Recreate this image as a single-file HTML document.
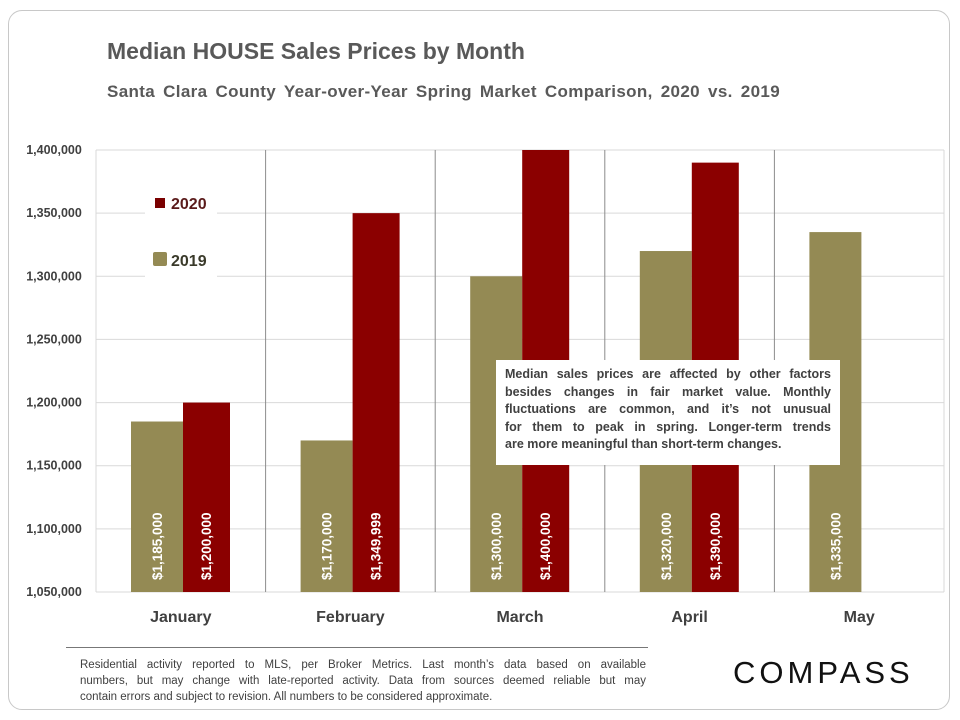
<!DOCTYPE html>
<html><head><meta charset="utf-8">
<style>
body{margin:0;width:960px;height:720px;background:#fff;font-family:"Liberation Sans",sans-serif;overflow:hidden;position:relative}
#frame{position:absolute;left:8px;top:10px;width:942px;height:700px;border:1px solid #c8c8c8;border-radius:14px;box-sizing:border-box}
.t{position:absolute;white-space:nowrap}
.j{text-align:justify;text-align-last:justify;white-space:nowrap;display:block}
</style></head><body>
<div id="frame"></div>
<div class="t" style="left:107px;top:38px;font-size:23px;font-weight:bold;color:#595959">Median HOUSE Sales Prices by Month</div>
<div class="t" style="left:107px;top:82px;font-size:17px;font-weight:bold;color:#595959;word-spacing:3px;letter-spacing:0.35px">Santa Clara County Year-over-Year Spring Market Comparison,  2020 vs. 2019</div>
<svg id="chart" width="960" height="720" style="position:absolute;left:0;top:0"></svg>
<div class="t" style="left:496px;top:360px;width:344px;height:105px;background:#fff;box-sizing:border-box;padding:6px 9px;font-size:12.5px;font-weight:bold;color:#404040;line-height:17.5px">
<span class="j">Median sales prices are affected by other factors</span>
<span class="j">besides changes in fair market value. Monthly</span>
<span class="j">fluctuations are common, and it’s not unusual</span>
<span class="j">for them to peak in spring. Longer-term trends</span>
<span style="display:block">are more meaningful than short-term changes.</span>
</div>
<div style="position:absolute;left:66px;top:647px;width:582px;height:1px;background:#777"></div>
<div class="t" style="left:80px;top:657px;width:566px;font-size:11.5px;color:#404040;line-height:16px">
<span class="j">Residential activity reported to MLS, per Broker Metrics. Last month’s data based on available</span>
<span class="j">numbers, but may change with late-reported activity. Data from sources deemed reliable but may</span>
<span style="display:block">contain errors and subject to revision. All numbers to be considered approximate.</span>
</div>
<div class="t" style="left:733px;top:655px;font-size:31px;letter-spacing:4px;color:#111">COMPASS</div>
<script>
const months=["January","February","March","April","May"];
const v2019=[1185000,1170000,1300000,1320000,1335000];
const v2020=[1200000,1349999,1400000,1390000,null];
const lbl2019=["$1,185,000","$1,170,000","$1,300,000","$1,320,000","$1,335,000"];
const lbl2020=["$1,200,000","$1,349,999","$1,400,000","$1,390,000",null];
const ticks=[1050000,1100000,1150000,1200000,1250000,1300000,1350000,1400000];
const NS="http://www.w3.org/2000/svg";
const svg=document.getElementById('chart');
const X0=96,X1=944,Y0=592,Y1=150,MIN=1050000,MAX=1400000;
const y=v=>Y0-(v-MIN)/(MAX-MIN)*(Y0-Y1);
const gw=(X1-X0)/months.length;
function mk(t,a){const e=document.createElementNS(NS,t);for(const k in a)e.setAttribute(k,a[k]);svg.appendChild(e);return e;}
ticks.forEach(t=>{
 const l=mk('line',{x1:X0,x2:X1,y1:y(t),y2:y(t),stroke:'#d9d9d9','stroke-width':1});
 
 
 const tx=mk('text',{x:54,y:y(t)+4,'text-anchor':'middle','font-size':12.5,'font-weight':'bold',fill:'#404040','font-family':'Liberation Sans'});
 tx.textContent=t.toLocaleString('en-US');
 
 
});
for(let i=0;i<=months.length;i++){
 const l=mk('line',{x1:X0+i*gw,x2:X0+i*gw,y1:Y1,y2:Y0,stroke:i==0||i==months.length?'#d9d9d9':'#8c8c8c','stroke-width':1});
 
 
}
months.forEach((m,i)=>{
 const gx=X0+i*gw;
 const b1=mk('rect',{x:gx+35,y:y(v2019[i]),width:52,height:Y0-y(v2019[i]),fill:'#948a54'});
 
 
 const t1=mk('text',{transform:`translate(${gx+66},580) rotate(-90)`,'font-size':13.5,'font-weight':'bold',fill:'#fff','font-family':'Liberation Sans'});
 t1.textContent=lbl2019[i];
 
 
 if(v2020[i]!=null){
  const b2=mk('rect',{x:gx+87,y:y(v2020[i]),width:47,height:Y0-y(v2020[i]),fill:'#8b0000'});
  
  
  const t2=mk('text',{transform:`translate(${gx+115},580) rotate(-90)`,'font-size':13.5,'font-weight':'bold',fill:'#fff','font-family':'Liberation Sans'});
  t2.textContent=lbl2020[i];
  
  
 }
 const xl=mk('text',{x:gx+gw/2,y:622,'text-anchor':'middle','font-size':16,'font-weight':'bold',fill:'#404040','font-family':'Liberation Sans'});
 xl.textContent=m;
 
 
});
const lgbg=mk('rect',{x:145,y:185,width:72,height:100,fill:'#fff'});


const s1=mk('rect',{x:155,y:198,width:10,height:10,fill:'#7a0000'});


const l1=mk('text',{x:171,y:209,'font-size':16,'font-weight':'bold',fill:'#5a1a1a','font-family':'Liberation Sans'});l1.textContent='2020';


const s2=mk('rect',{x:153,y:252,width:14,height:14,rx:2,fill:'#948a54'});


const l2=mk('text',{x:171,y:266,'font-size':16,'font-weight':'bold',fill:'#3a3a2a','font-family':'Liberation Sans'});l2.textContent='2019';


</script>
</body></html>
